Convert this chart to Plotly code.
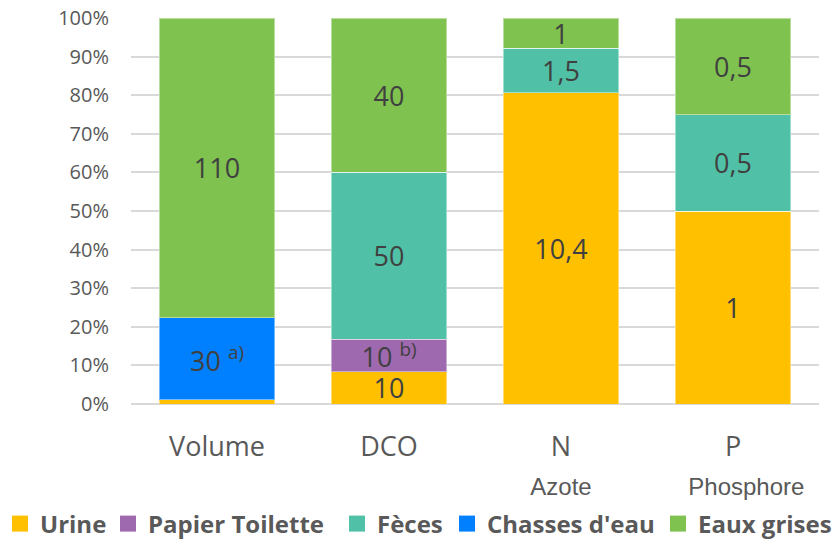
import plotly.graph_objects as go

categories = ["Volume", "DCO", "N", "P"]
sub_labels = ["", "", "Azote", "\u00a0\u00a0\u00a0\u00a0Phosphore"]
series_names = ["Urine", "Papier Toilette", "Fèces", "Chasses d'eau", "Eaux grises"]
y_ticks = [0, 10, 20, 30, 40, 50, 60, 70, 80, 90, 100]
y_tick_labels = [f"{v}%" for v in y_ticks]

# shares (%)
urine = [1.1, 8.4, 80.6, 50.0]
papier = [0.0, 8.4, 0.0, 0.0]
feces = [0.0, 43.3, 11.6, 25.0]
chasses = [21.2, 0.0, 0.0, 0.0]
eaux_grises = [77.7, 39.9, 7.8, 25.0]

# labels printed in the bars
urine_txt = ["", "10", "10,4", "1"]
papier_txt = ["", "10 <sup>b)</sup>", "", ""]
feces_txt = ["", "50", "1,5", "0,5"]
chasses_txt = ["30 <sup>a)</sup>", "", "", ""]
eaux_txt = ["110", "40", "1", "0,5"]

colors = ["#FFC000", "#9E69AF", "#50C1A6", "#0080FF", "#7FC24F"]

# legend text start positions (px) in the reference
legend_text_px = [40, 148, 377, 487, 698]

PLOT_L, PLOT_R, PLOT_T, PLOT_B = 131, 819, 18, 404
W, H = 836, 539

fig = go.Figure()
for name, vals, txt, col in zip(
    series_names,
    [urine, papier, feces, chasses, eaux_grises],
    [urine_txt, papier_txt, feces_txt, chasses_txt, eaux_txt],
    colors,
):
    fig.add_trace(go.Bar(
        x=categories, y=vals, name=name, text=txt,
        textposition="inside", insidetextanchor="middle",
        textangle=0, constraintext="none",
        textfont=dict(size=27, color="#404040", family="Open Sans"),
        marker=dict(color=col, line=dict(color="rgba(255,255,255,0.45)", width=1)),
        hoverinfo="skip", showlegend=False,
    ))

# legend entries (square swatches), one legend per entry to place them like the reference
legend_layouts = {}
for i, (name, col, tx) in enumerate(zip(series_names, colors, legend_text_px)):
    lg = "legend" if i == 0 else f"legend{i+1}"
    fig.add_trace(go.Scatter(
        x=[None], y=[None], mode="markers", name=name,
        marker=dict(symbol="square", size=16, color=col),
        legend=lg, showlegend=True, hoverinfo="skip",
    ))
    left_px = tx - 40
    legend_layouts[lg] = dict(
        x=(left_px - PLOT_L) / (PLOT_R - PLOT_L), xanchor="left",
        y=(PLOT_B - 524) / (PLOT_B - PLOT_T), yanchor="middle",
        orientation="h", bgcolor="rgba(0,0,0,0)", borderwidth=0,
        font=dict(size=24, color="#595959", family="Open Sans", weight="bold"),
        itemwidth=30,
    )

# secondary x axis carrying the sub labels (Azote / Phosphore)
fig.add_trace(go.Bar(x=categories, y=[0, 0, 0, 0], xaxis="x2", yaxis="y",
                     showlegend=False, hoverinfo="skip", marker=dict(color="rgba(0,0,0,0)")))

fig.update_layout(
    barmode="stack",
    bargap=0.331,
    width=W, height=H,
    margin=dict(l=PLOT_L, r=W - PLOT_R, t=PLOT_T, b=H - PLOT_B, autoexpand=False),
    plot_bgcolor="white", paper_bgcolor="white",
    font=dict(family="Open Sans", color="#595959"),
    xaxis=dict(
        type="category", categoryarray=categories, range=[-0.5, 3.5],
        tickfont=dict(size=27, color="#595959", family="Open Sans"),
        showline=False, ticks="", ticklabelstandoff=24,
    ),
    xaxis2=dict(
        type="category", categoryarray=categories, range=[-0.5, 3.5],
        overlaying="x", anchor="y", side="bottom",
        tickmode="array", tickvals=categories, ticktext=sub_labels,
        tickfont=dict(size=24, color="#595959", family="Liberation Sans"),
        showgrid=False, showline=False, ticks="", ticklabelstandoff=66,
    ),
    yaxis=dict(
        range=[0, 100], tickmode="array", tickvals=y_ticks, ticktext=y_tick_labels,
        tickfont=dict(size=20, color="#595959", family="Open Sans"),
        showgrid=True, gridcolor="#D9D9D9", gridwidth=1.5,
        zeroline=True, zerolinecolor="#D9D9D9", zerolinewidth=1.5,
        ticks="", ticklabelstandoff=21,
    ),
    **legend_layouts,
)
fig.write_html(
    "out.html",
    config={"displayModeBar": False},
    post_script="document.body.style.margin='0';document.body.style.overflow='hidden';",
)
